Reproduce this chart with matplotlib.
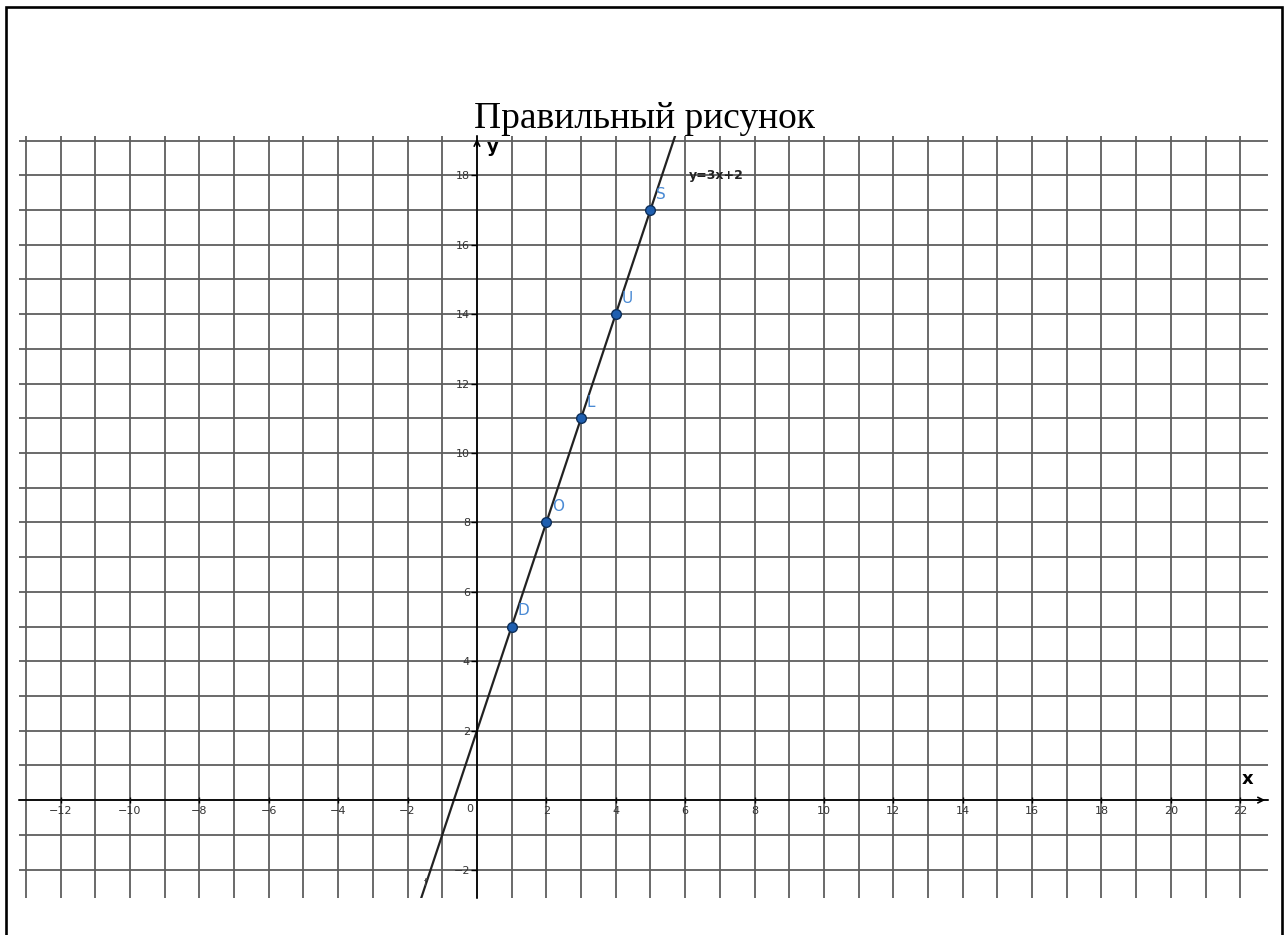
import numpy as np
import matplotlib

matplotlib.use('Agg')
import matplotlib.pyplot as plt
from matplotlib.patches import Rectangle

# Точки на прямой y = 3x + 2
point_x = [1, 2, 3, 4, 5]
point_y = [5, 8, 11, 14, 17]
point_names = ['D', 'O', 'L', 'U', 'S']

slope = 3
intercept = 2
line_label = 'y=3x+2'

x_tick_values = [v for v in range(-12, 23, 2) if v != 0]
y_tick_values = [v for v in range(-2, 19, 2) if v != 0]

title = 'Правильный рисунок'

x_min, x_max = -13.2, 22.8
y_min, y_max = -2.82, 19.13

fig = plt.figure(figsize=(12.86, 9.35), dpi=100)
ax = fig.add_axes([19 / 1286, 37 / 935, 1249 / 1286, 762 / 935])
ax.set_xlim(x_min, x_max)
ax.set_ylim(y_min, y_max)

# Сетка через каждую единицу
ax.set_xticks(np.arange(-13, 23), minor=True)
ax.set_yticks(np.arange(-2, 20), minor=True)
ax.grid(which='both', color='#5e5e5e', lw=1.3)
ax.tick_params(which='minor', length=0)
ax.set_axisbelow(True)

# Оси через начало координат
for side in ['top', 'right']:
    ax.spines[side].set_visible(False)
ax.spines['bottom'].set_position(('data', 0))
ax.spines['left'].set_position(('data', 0))
for side in ['bottom', 'left']:
    ax.spines[side].set_color('black')
    ax.spines[side].set_linewidth(1.2)

ax.set_xticks(x_tick_values)
ax.set_xticklabels(['\u2212' + str(-v) if v < 0 else str(v) for v in x_tick_values])
ax.set_yticks(y_tick_values)
ax.set_yticklabels(['\u2212' + str(-v) if v < 0 else str(v) for v in y_tick_values])
ax.tick_params(axis='x', which='major', direction='inout', length=5, width=1,
               pad=2, labelsize=8, labelcolor='#333333')
ax.tick_params(axis='y', which='major', direction='out', length=4, width=1,
               pad=1, labelsize=8, labelcolor='#333333')
ax.text(-0.2, -0.12, '0', ha='center', va='top', fontsize=8, color='#333333')

# Стрелки на концах осей
ax.annotate('', xy=(x_max, 0), xytext=(x_max - 0.4, 0),
            arrowprops=dict(arrowstyle='->', color='black', lw=1.2, mutation_scale=10),
            annotation_clip=False)
ax.annotate('', xy=(0, y_max), xytext=(0, y_max - 0.4),
            arrowprops=dict(arrowstyle='->', color='black', lw=1.2, mutation_scale=10),
            annotation_clip=False)
ax.text(22.2, 0.62, 'x', ha='center', va='center', fontsize=13, fontweight='bold')
ax.text(0.45, 18.82, 'y', ha='center', va='center', fontsize=13, fontweight='bold')

# Прямая
ax.axline((0, intercept), slope=slope, color='#222222', lw=1.6)
ax.text(6.1, 18.0, line_label, ha='left', va='center', fontsize=9,
        fontweight='bold', color='#222222')
ax.text(-1.48, -2.4, 'f', ha='center', va='center', fontsize=7, color='#444444')

# Точки
ax.plot(point_x, point_y, 'o', ms=7, mfc='#1f5fb0', mec='#0d2f5a', mew=1, zorder=5)
for px, py, name in zip(point_x, point_y, point_names):
    ax.annotate(name, (px, py), xytext=(4, 6), textcoords='offset points',
                ha='left', va='bottom', fontsize=11, color='#4a8ad4')

fig.text(644 / 1286, 1 - 128 / 935, title, ha='center', va='baseline',
         fontsize=27, family='Liberation Serif', color='black')

# Рамка
fig.patches.append(Rectangle((6 / 1286, -0.05), 1275.5 / 1286, 1.05 - 7 / 935,
                             transform=fig.transFigure, fill=False,
                             edgecolor='black', lw=1.9))

fig.savefig('out.png', dpi=100)
